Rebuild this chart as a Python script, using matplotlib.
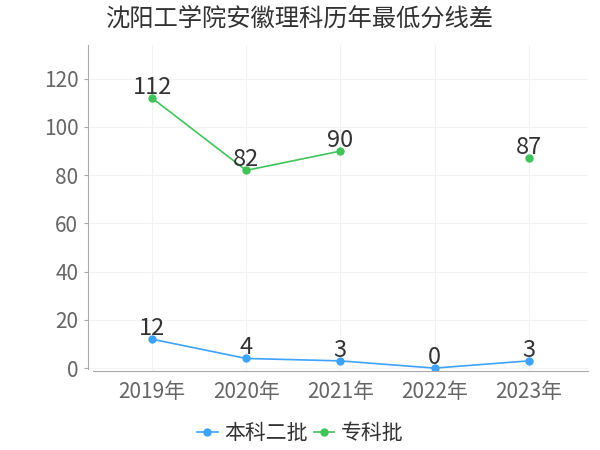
import matplotlib
matplotlib.use("Agg")
import matplotlib.pyplot as plt
import numpy as np

plt.rcParams['font.family'] = ['Noto Sans CJK SC', 'DejaVu Sans']

years = ["2019年", "2020年", "2021年", "2022年", "2023年"]
benke = [12, 4, 3, 0, 3]
zhuanke = [112, 82, 90, None, 87]
series_names = ["本科二批", "专科批"]
colors = ["#3ea2ff", "#40c45a"]

fig = plt.figure(figsize=(6, 4.5), dpi=100)
ax = fig.add_axes([88 / 600, 1 - 371 / 450, 500 / 600, 326 / 450])

x = np.arange(len(years))
for vals, name, c in zip([benke, zhuanke], series_names, colors):
    y = np.array([np.nan if v is None else v for v in vals], dtype=float)
    ax.plot(x, y, color=c, lw=1.2, marker="o", ms=5, label=name)
    for xi, v in zip(x, vals):
        if v is not None:
            ax.annotate(str(v), (xi, v), xytext=(0, -0.5), textcoords="offset points",
                        ha="center", va="bottom", fontsize=17, color="#333333")

ax.set_xlim(-0.68, 4.63)
ax.set_ylim(-1.2, 134)
ax.set_yticks(range(0, 121, 20))
ax.set_xticks(x)
ax.set_xticklabels(years)
ax.tick_params(axis="both", labelsize=15, colors="#666666")
ax.tick_params(axis="x", pad=7, length=0)
ax.tick_params(axis="y", pad=4, length=3, color="#aaaaaa")
ax.grid(True, color="#f2f2f2", lw=0.8)
ax.set_axisbelow(True)
for s in ["top", "right"]:
    ax.spines[s].set_visible(False)
for s in ["left", "bottom"]:
    ax.spines[s].set_color("#aaaaaa")
ax.spines["left"].set_bounds(-0.4, 134)
ax.spines["bottom"].set_bounds(-0.63, 4.63)

fig.text(0.5, 1 - 19 / 450, "沈阳工学院安徽理科历年最低分线差", ha="center", va="center",
         fontsize=17.5, color="#333333")
fig.legend(loc="center", bbox_to_anchor=(0.5, 1 - 433 / 450), ncol=2, frameon=False,
           fontsize=15, handlelength=1.0, handletextpad=0.3, columnspacing=0.3,
           labelcolor="#333333")

fig.savefig("out.png", dpi=100)
